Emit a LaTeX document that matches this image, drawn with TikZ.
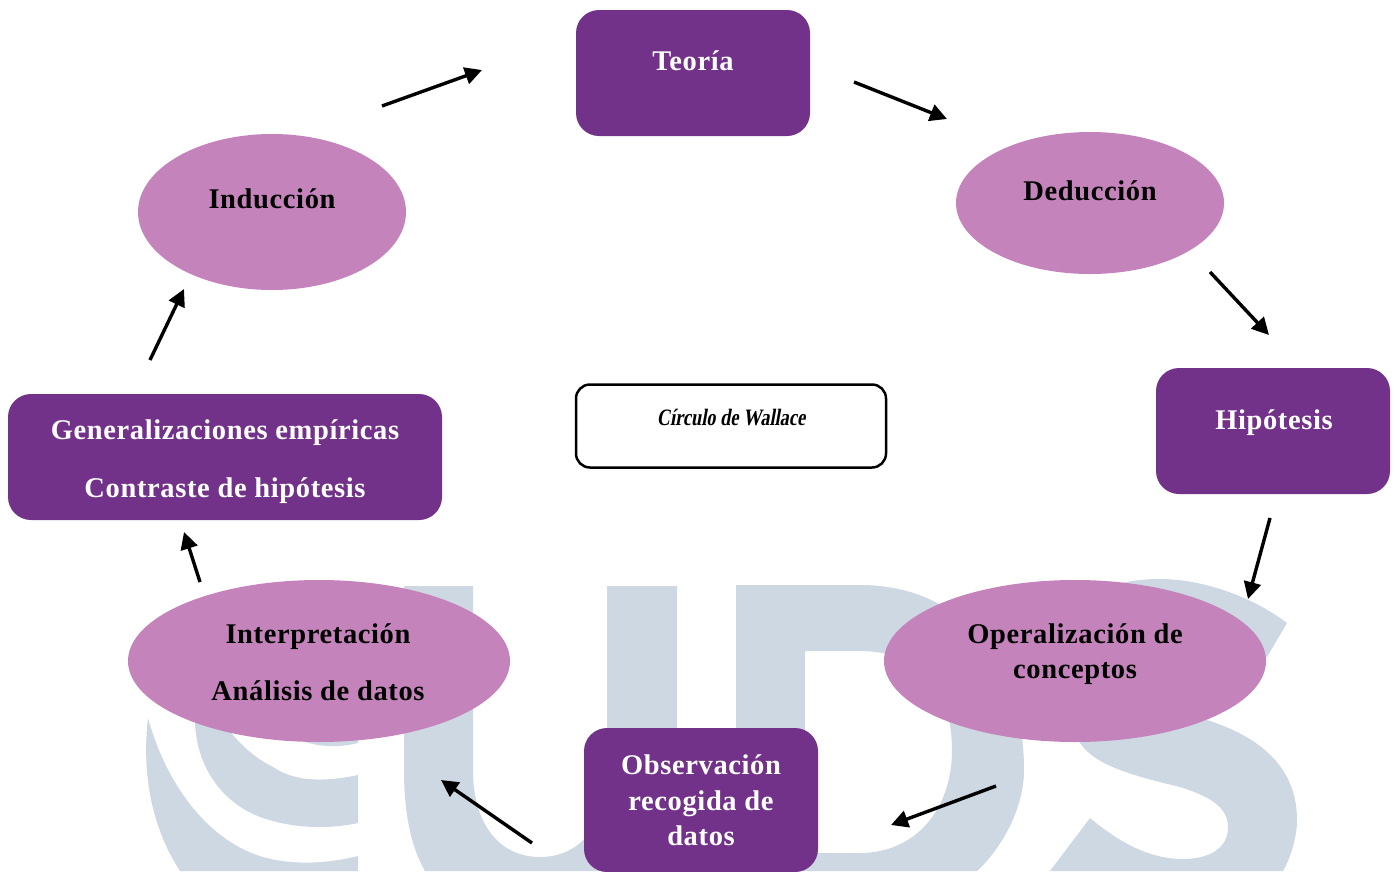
\documentclass[tikz,border=0pt]{standalone}
\usepackage{fontspec}
\setmainfont[LetterSpace=2.2]{Liberation Serif}
\newfontfamily\scriptf[FakeStretch=0.78,FakeSlant=0.18]{Liberation Serif}
\usetikzlibrary{arrows.meta,shapes.geometric}
\definecolor{mwm}{HTML}{CDD8E3}
\definecolor{mpurple}{HTML}{733289}
\definecolor{mpink}{HTML}{C583BB}
\tikzset{
  wm/.style={fill=mwm,draw=none},
  pbox/.style={rectangle,rounded corners=23pt,fill=mpurple,draw=none,minimum width=234pt,minimum height=126pt,inner sep=0pt},
  pell/.style={ellipse,fill=mpink,draw=none,inner sep=0pt},
  wtext/.style={text=white,anchor=base,font=\fontsize{28.5}{30}\selectfont\bfseries,inner sep=0pt},
  btext/.style={text=black,anchor=base,font=\fontsize{28.5}{30}\selectfont\bfseries,inner sep=0pt},
  arr/.style={draw=black,line width=3.4pt,-{Triangle[length=17pt,width=17pt]}},
}
\begin{document}
\begin{tikzpicture}[x=1pt,y=-1pt]
\useasboundingbox (0,0) rectangle (1395,871);
% watermark letters
\fill[wm] (148,718) .. controls (142,770) and (150,825) .. (180,871) -- (358,871) -- (358,856) .. controls (330,863) and (295,866) .. (263,857) .. controls (205,840) and (165,780) .. (148,718) -- cycle;
\fill[wm] (195,700) -- (195,723) .. controls (197,770) and (225,805) .. (263,818) .. controls (295,829) and (330,829) .. (358,823) -- (358,775) .. controls (325,782) and (295,782) .. (273,767) .. controls (255,758) and (240,745) .. (225,725) -- cycle;
\fill[wm] (285,730) .. controls (300,745) and (330,750) .. (358,743) -- (358,725) -- cycle;
\fill[wm] (404,586) -- (473,586) -- (473,770) .. controls (473,825) and (500,857) .. (540,857) .. controls (580,857) and (607,825) .. (607,770) -- (607,586) -- (677,586) -- (677,770) .. controls (677,810) and (670,845) .. (658,871) -- (425,871) .. controls (410,845) and (404,810) .. (404,770) -- cycle;
\fill[wm,even odd rule] (736,585) -- (860,585) .. controls (960,585) and (1024,660) .. (1024,770) .. controls (1024,810) and (1000,850) .. (977,871) -- (736,871) -- cycle
  (805,651) -- (860,651) .. controls (920,651) and (952,690) .. (952,750) .. controls (952,810) and (915,853) .. (860,853) -- (805,853) -- cycle;
\fill[wm] (1287,623) .. controls (1250,595) and (1200,579) .. (1160,579) .. controls (1140,579) and (1120,582) .. (1100,590) -- (1060,700) .. controls (1065,720) and (1070,733) .. (1080,743) .. controls (1095,765) and (1130,775) .. (1180,787) .. controls (1205,795) and (1228,805) .. (1228,827) .. controls (1228,848) and (1210,859) .. (1183,859) .. controls (1150,859) and (1120,843) .. (1090,818) -- (1050,871) -- (1283,871) .. controls (1292,855) and (1297,835) .. (1297,820) .. controls (1297,775) and (1270,740) .. (1207,720) -- (1150,700) -- (1200,650) -- (1267,657) -- cycle;
% purple boxes
\node[pbox] (teoria) at (693,73) {};
\node[wtext] (tteoria) at (693,70) {Teoría};
\node[pbox] (hipo) at (1273,431) {};
\node[wtext] (thipo) at (1274,429) {Hipótesis};
\node[pbox] (obs) at (701,800) [minimum height=144pt] {};
\node[wtext] (tobs1) at (701,774) {Observación};
\node[wtext] (tobs2) at (701,810) {recogida de};
\node[wtext] (tobs3) at (701,845) {datos};
\node[pbox,minimum width=434pt] (gen) at (225,457) {};
\node[wtext] (tgen1) at (225,439) {Generalizaciones empíricas};
\node[wtext] (tgen2) at (225,497) {Contraste de hipótesis};
% ellipses
\node[pell,minimum width=268pt,minimum height=142pt] (ded) at (1090,203) {};
\node[btext] (tded) at (1090,200) {Deducción};
\node[pell,minimum width=268pt,minimum height=156pt] (ind) at (272,212) {};
\node[btext] (tind) at (272,208) {Inducción};
\node[pell,minimum width=382pt,minimum height=162pt] (ope) at (1075,661) {};
\node[btext] (tope1) at (1075,643) {Operalización de};
\node[btext] (tope2) at (1075,678) {conceptos};
\node[pell,minimum width=382pt,minimum height=162pt] (int) at (319,661) {};
\node[btext] (tint1) at (318,643) {Interpretación};
\node[btext] (tint2) at (318,700) {Análisis de datos};
% title box
\node[rectangle,rounded corners=14pt,fill=white,draw=black,line width=2.5pt,minimum width=310pt,minimum height=83pt,inner sep=0pt] (wal) at (731,426) {};
\node[anchor=base,inner sep=0pt,font=\scriptf\fontsize{23.5}{26}\selectfont\bfseries] (twal) at (731,425) {Círculo de Wallace};
% arrows
\coordinate (a1) at (382,106); \coordinate (a2) at (482,70);
\coordinate (b1) at (854,82); \coordinate (b2) at (947,119);
\coordinate (c1) at (1210,272); \coordinate (c2) at (1269,335);
\coordinate (d1) at (1270,518); \coordinate (d2) at (1248,599);
\coordinate (e1) at (996,786); \coordinate (e2) at (891,825);
\coordinate (f1) at (532,843); \coordinate (f2) at (441,780);
\coordinate (g1) at (200,582); \coordinate (g2) at (184,532);
\coordinate (h1) at (150,360); \coordinate (h2) at (184,289);
\draw[arr] (a1) -- (a2);
\draw[arr] (b1) -- (b2);
\draw[arr] (c1) -- (c2);
\draw[arr] (d1) -- (d2);
\draw[arr] (e1) -- (e2);
\draw[arr] (f1) -- (f2);
\draw[arr] (g1) -- (g2);
\draw[arr] (h1) -- (h2);
\end{tikzpicture}
\end{document}
